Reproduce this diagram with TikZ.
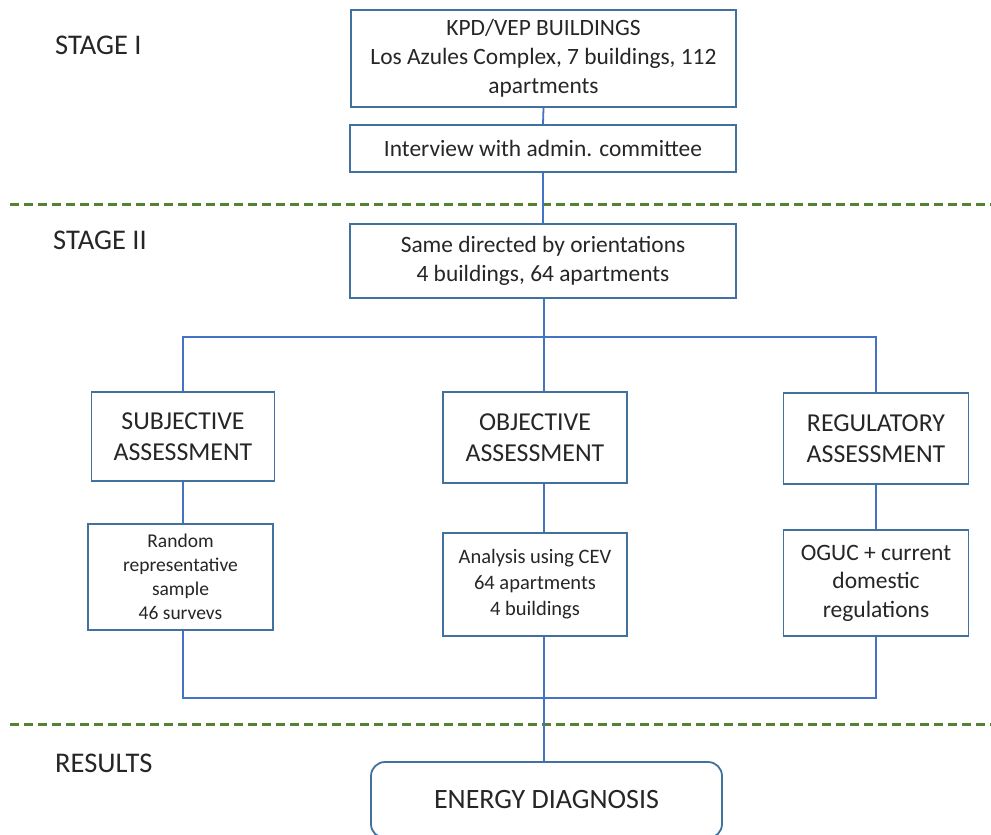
\documentclass[tikz,border=0pt]{standalone}
\usepackage{fontspec}
\setmainfont{Carlito}
\definecolor{boxblue}{RGB}{65,113,156}
\definecolor{lineblue}{RGB}{68,114,196}
\definecolor{dashgreen}{RGB}{84,130,53}
\begin{document}
\begin{tikzpicture}[x=1pt,y=-1pt,
  box/.style={draw=boxblue,line width=1.8pt,fill=white,inner sep=0pt,align=center,text=black!85},
  conn/.style={draw=lineblue,line width=1.8pt},
  sep/.style={draw=dashgreen,line width=3pt,dash pattern=on 9pt off 5pt},
  lbl/.style={anchor=west,font=\fontsize{28.5}{30}\selectfont,text=black!85,inner sep=0pt}]
\useasboundingbox (0,0) rectangle (991,835);
\clip (0,0) rectangle (991,835);
\draw[sep] (10,204) -- (991,204);
\draw[sep] (10,724) -- (991,724);
\node[lbl] (s1) at (55,45) {STAGE I};
\node[lbl] (s2) at (53,240) {STAGE II};
\node[lbl] (s3) at (55,763) {RESULTS};
\node[box,minimum width=385pt,minimum height=97pt,font=\fontsize{23.4}{29}\selectfont] (top) at (543.5,58.5)
  {KPD/VEP BUILDINGS\\Los Azules Complex, 7 buildings, 112\\apartments};
\node[box,minimum width=386pt,minimum height=47pt,font=\fontsize{23.4}{26}\selectfont] (int) at (543,148.5)
  {Interview with admin. committee};
\node[box,minimum width=386pt,minimum height=74pt,font=\fontsize{23.4}{29}\selectfont] (same) at (543,261)
  {Same directed by orientations\\4 buildings, 64 apartments};
\node[box,minimum width=183pt,minimum height=89pt,font=\fontsize{25.8}{31}\selectfont] (subj) at (183,436.5)
  {SUBJECTIVE\\ASSESSMENT};
\node[box,minimum width=184pt,minimum height=91pt,font=\fontsize{25.8}{31}\selectfont] (obj) at (535,437.5)
  {OBJECTIVE\\ASSESSMENT};
\node[box,minimum width=185pt,minimum height=91pt,font=\fontsize{25.8}{31}\selectfont] (reg) at (876,438.5)
  {REGULATORY\\ASSESSMENT};
\node[box,minimum width=185pt,minimum height=106pt,font=\fontsize{19.5}{24}\selectfont] (rand) at (180.5,577)
  {Random\\representative\\sample\\46 survevs};
\node[box,minimum width=184pt,minimum height=103pt,font=\fontsize{20.5}{26}\selectfont] (ana) at (535,584.5)
  {Analysis using CEV\\64 apartments\\4 buildings};
\node[box,minimum width=185pt,minimum height=106pt,font=\fontsize{23.5}{28.5}\selectfont] (ogu) at (876,583)
  {OGUC + current\\domestic\\regulations};
\node[box,rounded corners=14pt,minimum width=351pt,minimum height=76pt,font=\fontsize{28}{30}\selectfont] (en) at (546.5,800)
  {ENERGY DIAGNOSIS};
\coordinate (j1) at (544,337);
\coordinate (j2) at (544,698);
\draw[conn] (top.south) -- (int.north);
\draw[conn] (int.south) -- (same.north);
\draw[conn] (j1 |- same.south) -- (j1 |- obj.north);
\draw[conn] (subj.north) -- (subj.north |- j1) -- (reg.north |- j1) -- (reg.north);
\draw[conn] (subj.south) -- (subj.south |- rand.north);
\draw[conn] (j1 |- obj.south) -- (j1 |- ana.north);
\draw[conn] (reg.south) -- (reg.south |- ogu.north);
\draw[conn] (rand.south -| subj.south) -- (subj.south |- j2) -- (ogu.south |- j2) -- (ogu.south);
\draw[conn] (j1 |- ana.south) -- (j1 |- en.north);
\end{tikzpicture}
\end{document}
